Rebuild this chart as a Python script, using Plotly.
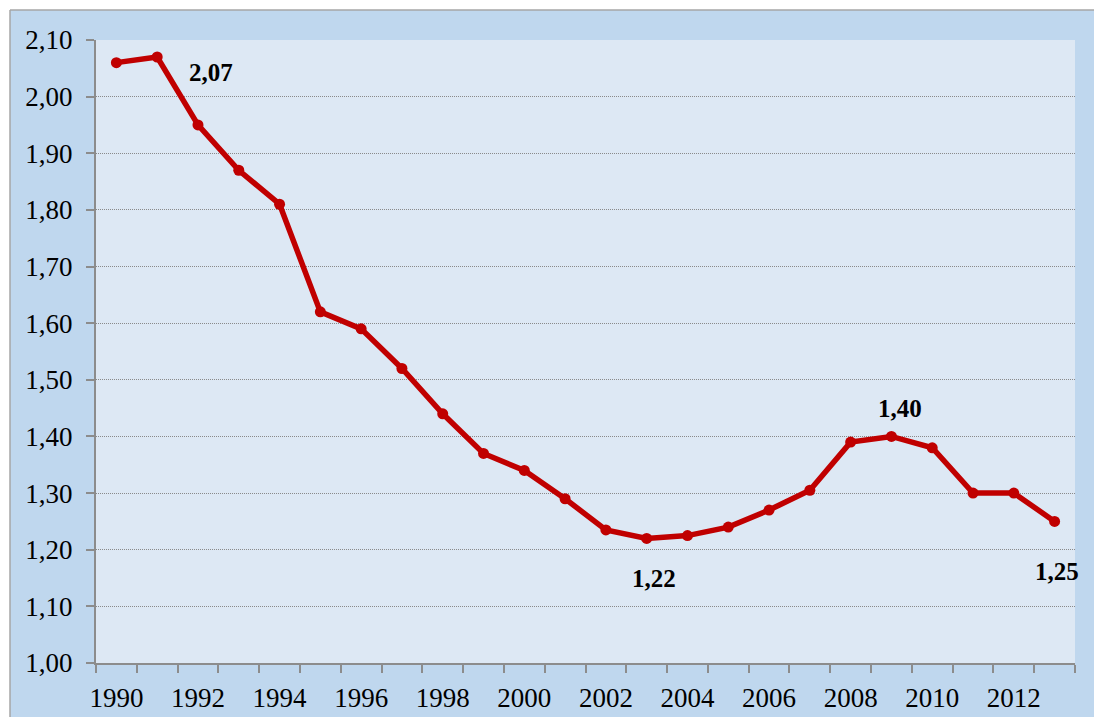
import plotly.graph_objects as go

years = list(range(1990, 2014))
values = [2.06, 2.07, 1.95, 1.87, 1.81, 1.62, 1.59, 1.52, 1.44, 1.37, 1.34, 1.29,
          1.235, 1.22, 1.225, 1.24, 1.27, 1.305, 1.39, 1.40, 1.38, 1.30, 1.30, 1.25]
label_years = list(range(1990, 2013, 2))
y_ticks = [1.0 + 0.1 * i for i in range(12)]

# labelled points: (year, x shift px, y shift px)
labelled = [(1991, 54, -16), (2003, 7, -40), (2009, 9, 28), (2013, 2, -50)]

W, H = 1094, 717
ML, MR, MT, MB = 96, 19, 40, 54
pw, ph = W - ML - MR, H - MT - MB

outer_bg = "#BFD7EE"
plot_bg = "#DDE8F4"
red = "#C00000"
axis_gray = "#8C8C8C"
font_family = "Liberation Serif, Times New Roman, serif"

fig = go.Figure()
fig.add_trace(go.Scatter(
    x=years, y=values, mode="lines+markers",
    line=dict(color=red, width=5.5),
    marker=dict(color=red, size=11),
    hoverinfo="skip", showlegend=False,
))

for yr, dx, dy in labelled:
    v = values[years.index(yr)]
    fig.add_annotation(
        x=yr, y=v, text="<b>" + f"{v:.2f}".replace(".", ",") + "</b>",
        showarrow=False, xshift=dx, yshift=dy,
        font=dict(family=font_family, size=25, color="black"),
    )

# white margin strips and thin gray frame of the chart area
edge = 10
fx0 = (edge - ML) / pw
fy1 = (H - MB - edge) / ph
fig.add_shape(type="rect", xref="paper", yref="paper", x0=-0.2, x1=1.2, y0=fy1, y1=1.3,
              fillcolor="white", line_width=0, layer="above")
fig.add_shape(type="rect", xref="paper", yref="paper", x0=-0.2, x1=fx0, y0=-0.2, y1=1.3,
              fillcolor="white", line_width=0, layer="above")
fig.add_shape(type="line", xref="paper", yref="paper", x0=fx0, x1=1.2, y0=fy1, y1=fy1,
              line=dict(color="#A6A6A6", width=1.5), layer="above")
fig.add_shape(type="line", xref="paper", yref="paper", x0=fx0, x1=fx0, y0=-0.2, y1=fy1,
              line=dict(color="#A6A6A6", width=1.5), layer="above")

fig.update_layout(
    width=W, height=H,
    margin=dict(l=ML, r=MR, t=MT, b=MB, pad=0, autoexpand=False),
    paper_bgcolor=outer_bg, plot_bgcolor=plot_bg,
    separators=",.",
    font=dict(family=font_family, size=27, color="black"),
    xaxis=dict(
        range=[1989.5, 2013.5], tickmode="array", tickvals=label_years,
        ticktext=[str(y) for y in label_years], ticks="", showgrid=False,
        showline=True, linecolor=axis_gray, linewidth=2, zeroline=False,
        ticklabelstandoff=10, automargin=False,
        minor=dict(tickmode="array", tickvals=[y - 0.5 for y in years] + [2013.5],
                   ticks="outside", ticklen=8, tickcolor=axis_gray, tickwidth=2,
                   showgrid=False),
        tickfont=dict(family=font_family, size=27),
    ),
    yaxis=dict(
        range=[1.0, 2.1], tickmode="array", tickvals=y_ticks, tickformat=".2f",
        ticks="outside", ticklen=8, tickcolor=axis_gray, tickwidth=2,
        showgrid=True, gridcolor="#8A8A8A", griddash="1px,1px", gridwidth=1,
        showline=True, linecolor=axis_gray, linewidth=2, zeroline=False,
        ticklabelstandoff=8, automargin=False,
        tickfont=dict(family=font_family, size=27),
    ),
)

fig.write_html(
    "out.html",
    config={"displayModeBar": False},
    post_script="document.body.style.margin='0';document.body.style.overflow='hidden';",
)
